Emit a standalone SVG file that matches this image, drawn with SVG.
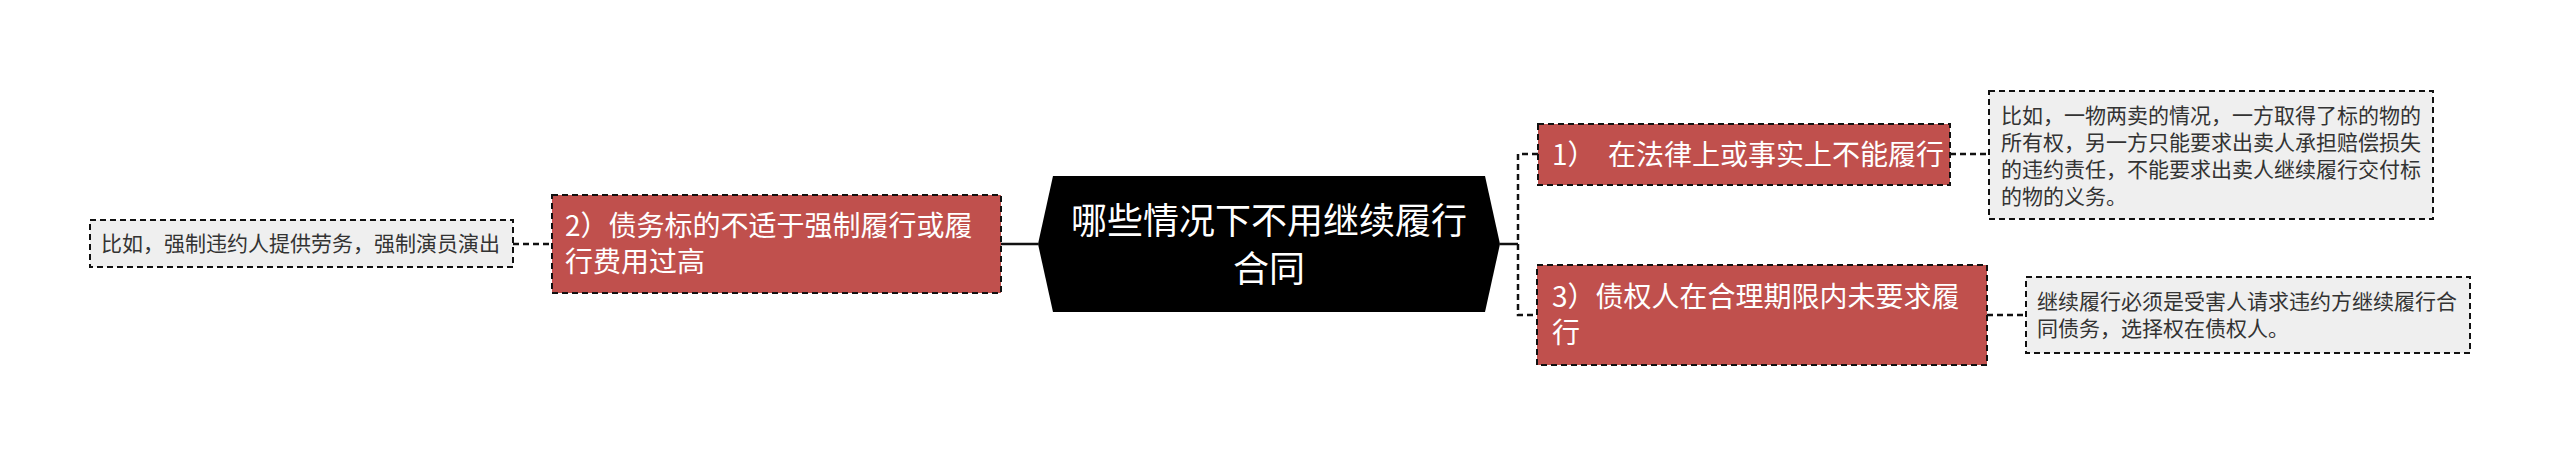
<svg xmlns="http://www.w3.org/2000/svg" width="2560" height="455" viewBox="0 0 2560 455">
<style>
text{font-family:"Noto Sans CJK SC","Microsoft YaHei",sans-serif;}
.red{fill:#C0504D;stroke:#111;stroke-width:2;stroke-dasharray:6 4;}
.leaf{fill:#EFEFEF;stroke:#111;stroke-width:2;stroke-dasharray:6 4;}
.wt{fill:#FFFFFF;font-size:28px;}
.lt{fill:#333333;font-size:21px;}
.dash{fill:none;stroke:#111;stroke-width:2.5;stroke-dasharray:6 4;}
.solid{fill:none;stroke:#111;stroke-width:2.5;}
</style>
<rect width="2560" height="455" fill="#FFFFFF"/>
<g id="connectors">
<line class="dash" x1="513" y1="244" x2="552" y2="244"/>
<line class="solid" x1="1001" y1="244" x2="1038" y2="244"/>
<line class="solid" x1="1500" y1="244" x2="1518" y2="244"/>
<path class="dash" d="M1538 154 H1518 V315 H1537"/>
<line class="dash" x1="1950" y1="154" x2="1989" y2="154"/>
<line class="dash" x1="1987" y1="315" x2="2026" y2="315"/>
</g>
<g id="center">
<polygon points="1053,176 1485,176 1500,244 1485,312 1053,312 1038,244" fill="#000000"/>
<text x="1269" y="234" fill="#FFFFFF" font-size="36" text-anchor="middle">哪些情况下不用继续履行</text>
<text x="1269" y="282" fill="#FFFFFF" font-size="36" text-anchor="middle">合同</text>
</g>
<g id="node2">
<rect class="red" x="552" y="195" width="449" height="98"/>
<text class="wt" x="565" y="236">2）债务标的不适于强制履行或履</text>
<text class="wt" x="565" y="272">行费用过高</text>
</g>
<g id="leafL">
<rect class="leaf" x="90" y="220" width="423" height="47"/>
<text class="lt" x="101" y="251">比如，强制违约人提供劳务，强制演员演出</text>
</g>
<g id="node1">
<rect class="red" x="1538" y="124" width="412" height="61"/>
<text class="wt" x="1552" y="164.5" xml:space="preserve">1）  在法律上或事实上不能履行</text>
</g>
<g id="node3">
<rect class="red" x="1537" y="265" width="450" height="100"/>
<text class="wt" x="1552" y="307">3）债权人在合理期限内未要求履</text>
<text class="wt" x="1552" y="343">行</text>
</g>
<g id="leaf1">
<rect class="leaf" x="1989" y="91" width="444" height="128"/>
<text class="lt" x="2001" y="123">比如，一物两卖的情况，一方取得了标的物的</text>
<text class="lt" x="2001" y="150">所有权，另一方只能要求出卖人承担赔偿损失</text>
<text class="lt" x="2001" y="177">的违约责任，不能要求出卖人继续履行交付标</text>
<text class="lt" x="2001" y="204">的物的义务。</text>
</g>
<g id="leaf3">
<rect class="leaf" x="2026" y="277" width="444" height="76"/>
<text class="lt" x="2037" y="309">继续履行必须是受害人请求违约方继续履行合</text>
<text class="lt" x="2037" y="336">同债务，选择权在债权人。</text>
</g>
</svg>
